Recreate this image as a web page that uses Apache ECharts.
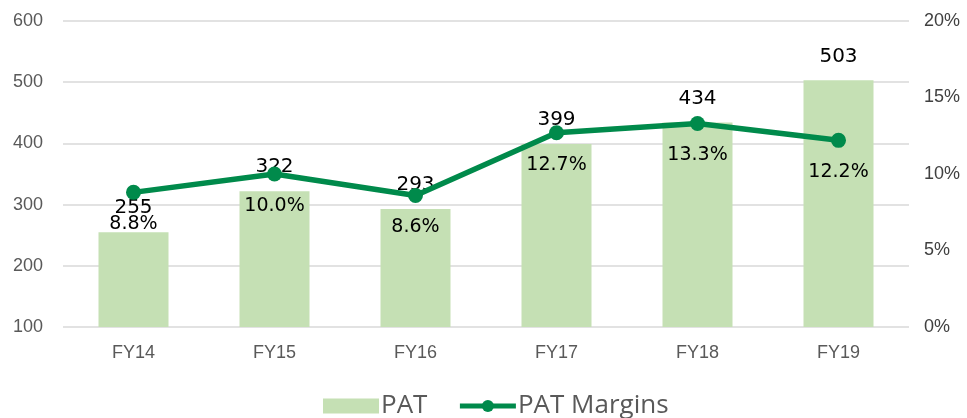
<!DOCTYPE html>
<html>
<head>
<meta charset="utf-8">
<script src="https://cdn.jsdelivr.net/npm/echarts@6/dist/echarts.min.js"></script>
<style>html,body{margin:0;padding:0;background:#fff}#c{width:967px;height:418px}</style>
</head>
<body>
<div id="c"></div>
<script>
const categories = ['FY14', 'FY15', 'FY16', 'FY17', 'FY18', 'FY19'];
const patValues = [255, 322, 293, 399, 434, 503];
const patMargins = [8.8, 10.0, 8.6, 12.7, 13.3, 12.2];
const leftTicks = { min: 100, max: 600, interval: 100 };
const rightTicks = { min: 0, max: 20, interval: 5 };

const chart = echarts.init(document.getElementById('c'));
chart.setOption({
  animation: false,
  grid: { left: 63, right: 58, top: 21, bottom: 91 },
  legend: {
    left: 318, top: 388,
    itemGap: 30, itemWidth: 56, itemHeight: 15,
    textStyle: { fontFamily: 'Open Sans', fontSize: 26, color: '#595959', padding: [0, 0, 0, -3] },
    data: [
      { name: 'PAT', icon: 'rect' },
      { name: 'PAT Margins', lineStyle: { width: 5 } }
    ]
  },
  xAxis: {
    type: 'category', data: categories,
    axisLine: { show: false }, axisTick: { show: false },
    axisLabel: { fontFamily: 'Liberation Sans', fontSize: 18, color: '#595959', margin: 17 }
  },
  yAxis: [
    {
      type: 'value', min: leftTicks.min, max: leftTicks.max, interval: leftTicks.interval,
      axisLine: { show: false }, axisTick: { show: false },
      axisLabel: { fontFamily: 'Liberation Sans', fontSize: 18, color: '#595959', margin: 20 },
      splitLine: { lineStyle: { color: '#D9D9D9', width: 1.5 } }
    },
    {
      type: 'value', min: rightTicks.min, max: rightTicks.max, interval: rightTicks.interval,
      axisLine: { show: false }, axisTick: { show: false }, splitLine: { show: false },
      axisLabel: { fontFamily: 'Liberation Sans', fontSize: 18, color: '#404040', margin: 15, formatter: '{value}%' }
    }
  ],
  series: [
    {
      name: 'PAT', type: 'bar', data: patValues, barWidth: 70,
      itemStyle: { color: '#C5E0B4' },
      z: 1,
      label: { show: true, position: 'top', distance: 14, color: '#000', fontFamily: 'DejaVu Sans', fontSize: 20 }
    },
    {
      name: 'PAT Margins', type: 'line', yAxisIndex: 1, data: patMargins,
      symbol: 'circle', symbolSize: 15,
      lineStyle: { color: '#008A4B', width: 5.5 },
      itemStyle: { color: '#008A4B' },
      z: 2,
      label: { show: true, position: 'bottom', distance: 15, color: '#000', fontFamily: 'DejaVu Sans', fontSize: 19,
        formatter: p => p.value.toFixed(1) + '%' }
    }
  ]
});
</script>
</body>
</html>
